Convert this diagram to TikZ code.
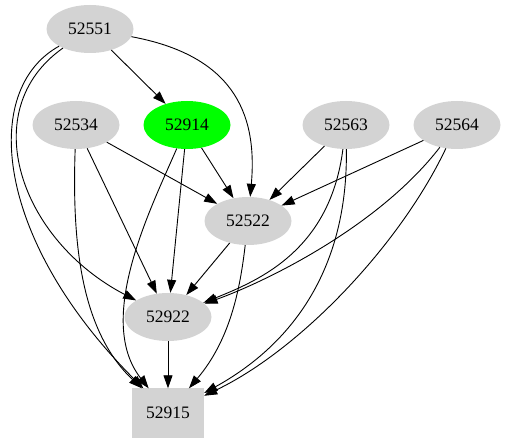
\documentclass[tikz,border=0pt]{standalone}
\usepackage{fontspec}
\setmainfont{Liberation Serif}
\usetikzlibrary{shapes.geometric,arrows.meta}
\definecolor{gvgray}{HTML}{D3D3D3}
\definecolor{gvgreen}{HTML}{00FF00}
\tikzset{
  ell/.style={ellipse, fill=gvgray, minimum width=87pt, minimum height=48pt, inner sep=0pt, font=\fontsize{17.5}{20}\selectfont},
  boxn/.style={rectangle, fill=gvgray, minimum width=72pt, minimum height=49pt, inner sep=0pt, font=\fontsize{17.5}{20}\selectfont},
  edge/.style={draw=black, line width=0.9pt, -{Triangle[length=13pt,width=9pt]}}
}
\begin{document}
\begin{tikzpicture}[x=1pt,y=-1pt]
\useasboundingbox (0,0) rectangle (506,443);
\node[ell] (a) at (90,29) {52551};
\node[ell] (b) at (76,125) {52534};
\node[ell, fill=gvgreen] (c) at (187,125) {52914};
\node[ell] (d) at (346,125) {52563};
\node[ell] (e) at (457,125) {52564};
\node[ell] (f) at (248,221) {52522};
\node[ell] (g) at (168,317) {52922};
\node[boxn] (h) at (168,413) {52915};

\draw[edge] (a) -- (c);
\draw[edge] (a) .. controls (230,55) and (258,110) .. (f);
\draw[edge] (a) .. controls (-25,110) and (20,240) .. (g);
\draw[edge] (a) .. controls (-20,90) and (-5,240) .. (h);

\draw[edge] (b) -- (f);
\draw[edge] (b) -- (g);
\draw[edge] (b) .. controls (72,240) and (80,330) .. (h);

\draw[edge] (c) -- (f);
\draw[edge] (c) -- (g);
\draw[edge] (c) .. controls (150,210) and (95,320) .. (h);

\draw[edge] (d) -- (f);
\draw[edge] (d) .. controls (330,250) and (260,280) .. (g);
\draw[edge] (d) .. controls (348,260) and (300,340) .. (h);

\draw[edge] (e) -- (f);
\draw[edge] (e) .. controls (380,225) and (270,280) .. (g);
\draw[edge] (e) .. controls (400,245) and (300,350) .. (h);

\draw[edge] (f) -- (g);
\draw[edge] (f) .. controls (240,290) and (230,340) .. (h);
\draw[edge] (g) -- (h);
\end{tikzpicture}
\end{document}
